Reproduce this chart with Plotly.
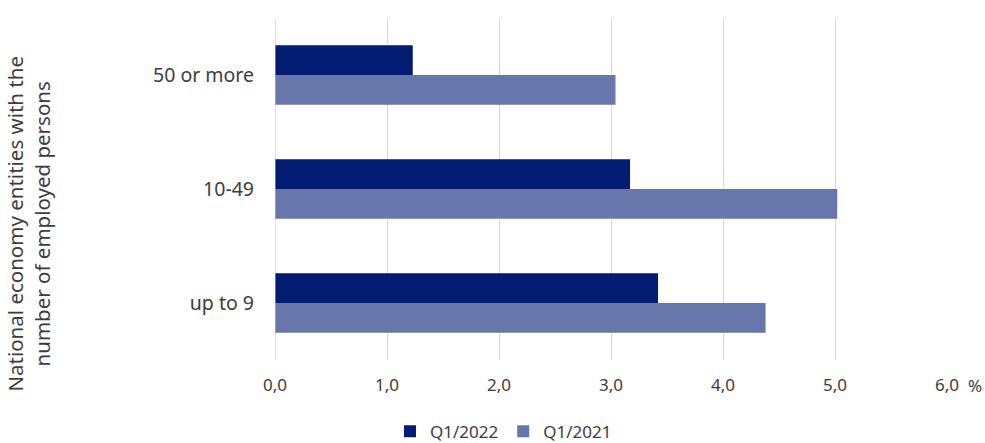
import plotly.graph_objects as go

# Size classes of national economy entities (top to bottom)
categories = ["50 or more", "10-49", "up to 9"]
q1_2022 = [1.23, 3.17, 3.42]
q1_2021 = [3.04, 5.02, 4.38]

tick_vals = [0, 1, 2, 3, 4, 5, 6]
tick_text = ["0,0", "1,0", "2,0", "3,0", "4,0", "5,0", "6,0"]

font_family = "Noto Sans, Open Sans, sans-serif"
text_color = "#3d3d3d"

fig = go.Figure()
fig.add_trace(go.Bar(
    name="Q1/2022", y=categories, x=q1_2022, orientation="h",
    marker=dict(color="#021c72", line=dict(width=0)),
))
fig.add_trace(go.Bar(
    name="Q1/2021", y=categories, x=q1_2021, orientation="h",
    marker=dict(color="#6777ab", line=dict(width=0)),
))

fig.update_layout(
    width=985, height=443,
    margin=dict(l=275, r=38, t=18, b=83, autoexpand=False),
    paper_bgcolor="white", plot_bgcolor="white",
    barmode="group", bargap=0.48, bargroupgap=0,
    font=dict(family=font_family, size=16, color=text_color),
    showlegend=True,
    legend=dict(
        orientation="h", x=0.34, xanchor="center", y=-0.21, yanchor="middle",
        font=dict(size=17, color=text_color), itemwidth=30,
        traceorder="normal",
    ),
    xaxis=dict(
        range=[0, 6], tickvals=tick_vals, ticktext=tick_text,
        showgrid=True, gridcolor="#d9d9d9", gridwidth=1,
        zeroline=False, showline=False, ticks="", automargin=False,
        ticklabelstandoff=13, tickfont=dict(size=17, color=text_color),
    ),
    yaxis=dict(
        autorange="reversed", showgrid=False, zeroline=False,
        showline=False, ticks="", ticklabelstandoff=20, automargin=False,
        tickfont=dict(size=19.5, color=text_color),
    ),
    shapes=[dict(
        type="line", xref="x", yref="paper", x0=0, x1=0, y0=0, y1=1,
        line=dict(color="#bfbfbf", width=1),
    )],
    annotations=[
        dict(
            text="National economy entities with the<br>number of employed persons",
            xref="paper", yref="paper", x=-0.367, y=0.40,
            xanchor="center", yanchor="middle", textangle=-90,
            showarrow=False, font=dict(size=20.5, color=text_color),
        ),
        dict(
            text="%", xref="x", yref="paper", x=6, y=0,
            xanchor="left", yanchor="top", xshift=19, yshift=-12,
            showarrow=False, font=dict(size=17, color=text_color),
        ),
    ],
)

fig.write_html("out.html")
